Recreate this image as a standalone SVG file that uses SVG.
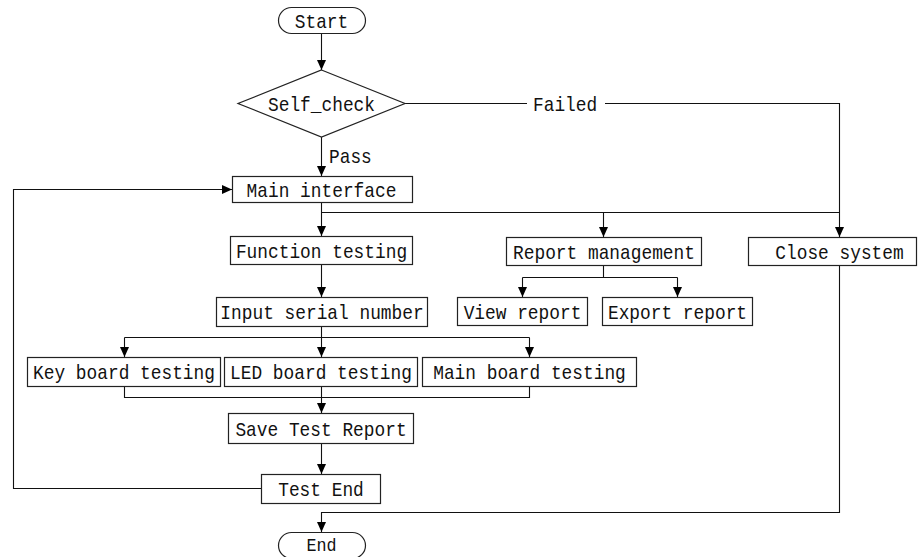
<svg xmlns="http://www.w3.org/2000/svg" width="919" height="557" viewBox="0 0 919 557">
<style>
.box{fill:#fff;stroke:#222;stroke-width:1.2}
.t{font-family:"Liberation Mono",monospace;font-size:21px;fill:#111;text-anchor:middle}
.lb{font-family:"Liberation Mono",monospace;font-size:21px;fill:#111}
.c{fill:none;stroke:#111;stroke-width:1.1}
</style>
<defs>
<marker id="arr" markerUnits="userSpaceOnUse" markerWidth="10" markerHeight="10" refX="10" refY="4.5" orient="auto">
<path d="M0,0 L10,4.5 L0,9 z" fill="#000"/>
</marker>
</defs>
<rect width="919" height="557" fill="#fff"/>
<g id="connectors">
<path class="c" d="M321.5,33 V70" marker-end="url(#arr)"/>
<path class="c" d="M321.5,137 V176" marker-end="url(#arr)"/>
<path class="c" d="M405,103.5 H527"/>
<path class="c" d="M605,103.5 H839.5 V237" marker-end="url(#arr)"/>
<path class="c" d="M321.5,203 V236" marker-end="url(#arr)"/>
<path class="c" d="M321.5,212.5 H839.5"/>
<path class="c" d="M603.5,212.5 V237" marker-end="url(#arr)"/>
<path class="c" d="M321.5,265 V297" marker-end="url(#arr)"/>
<path class="c" d="M603.5,266 V277.5 M522.5,277.5 H677.5"/>
<path class="c" d="M522.5,277.5 V297" marker-end="url(#arr)"/>
<path class="c" d="M677.5,277.5 V297" marker-end="url(#arr)"/>
<path class="c" d="M321.5,327 V357" marker-end="url(#arr)"/>
<path class="c" d="M124.5,337.5 H529.5"/>
<path class="c" d="M124.5,337.5 V357" marker-end="url(#arr)"/>
<path class="c" d="M529.5,337.5 V357" marker-end="url(#arr)"/>
<path class="c" d="M124.5,387 V397.5 H529.5 V387"/>
<path class="c" d="M321.5,387 V413" marker-end="url(#arr)"/>
<path class="c" d="M321.5,444 V474" marker-end="url(#arr)"/>
<path class="c" d="M261,488.5 H13.5 V189.5 H232" marker-end="url(#arr)"/>
<path class="c" d="M839.5,266 V512.5 H321.5 V532" marker-end="url(#arr)"/>
<text class="lb" transform="translate(533,110.5) scale(.85,1)">Failed</text>
<text class="lb" transform="translate(329,163) scale(.85,1)">Pass</text>
</g>
<g id="start"><rect class="box" x="278.5" y="7.5" width="87" height="26" rx="13"/><text class="t" transform="translate(321.5,27.5) scale(.85,1)">Start</text></g>
<g id="self_check"><polygon class="box" points="321.5,70 405,103.5 321.5,137 238,103.5"/><text class="t" transform="translate(321.5,110.5) scale(.85,1)">Self_check</text></g>
<g id="main_interface"><rect class="box" x="232.5" y="176.5" width="180" height="26"/><text class="t" transform="translate(321.5,196.5) scale(.85,1)">Main interface</text></g>
<g id="function_testing"><rect class="box" x="230.5" y="236.5" width="182" height="28"/><text class="t" transform="translate(321.5,257.5) scale(.85,1)">Function testing</text></g>
<g id="report_management"><rect class="box" x="506.5" y="237.5" width="195" height="28"/><text class="t" transform="translate(604,258.5) scale(.85,1)">Report management</text></g>
<g id="close_system"><rect class="box" x="748.5" y="237.5" width="168" height="28"/><text class="t" transform="translate(839.5,258.5) scale(.85,1)">Close system</text></g>
<g id="input_serial"><rect class="box" x="216.5" y="297.5" width="211" height="29"/><text class="t" transform="translate(322,319) scale(.85,1)">Input serial number</text></g>
<g id="view_report"><rect class="box" x="457.5" y="297.5" width="130" height="28"/><text class="t" transform="translate(522.5,318.5) scale(.85,1)">View report</text></g>
<g id="export_report"><rect class="box" x="602.5" y="297.5" width="150" height="28"/><text class="t" transform="translate(677.5,318.5) scale(.85,1)">Export report</text></g>
<g id="key_board"><rect class="box" x="27.5" y="357.5" width="193" height="29"/><text class="t" transform="translate(124,379) scale(.85,1)">Key board testing</text></g>
<g id="led_board"><rect class="box" x="224.5" y="357.5" width="193" height="29"/><text class="t" transform="translate(321,379) scale(.85,1)">LED board testing</text></g>
<g id="main_board"><rect class="box" x="422.5" y="357.5" width="214" height="29"/><text class="t" transform="translate(529.5,379) scale(.85,1)">Main board testing</text></g>
<g id="save_report"><rect class="box" x="228.5" y="413.5" width="185" height="30"/><text class="t" transform="translate(321,436) scale(.85,1)">Save Test Report</text></g>
<g id="test_end"><rect class="box" x="261.5" y="474.5" width="119" height="29"/><text class="t" transform="translate(321,496) scale(.85,1)">Test End</text></g>
<g id="end"><rect class="box" x="278.5" y="532.5" width="87" height="26" rx="13"/><text class="t" style="font-size:19px" transform="translate(321.5,551) scale(.88,1)">End</text></g>
</svg>
